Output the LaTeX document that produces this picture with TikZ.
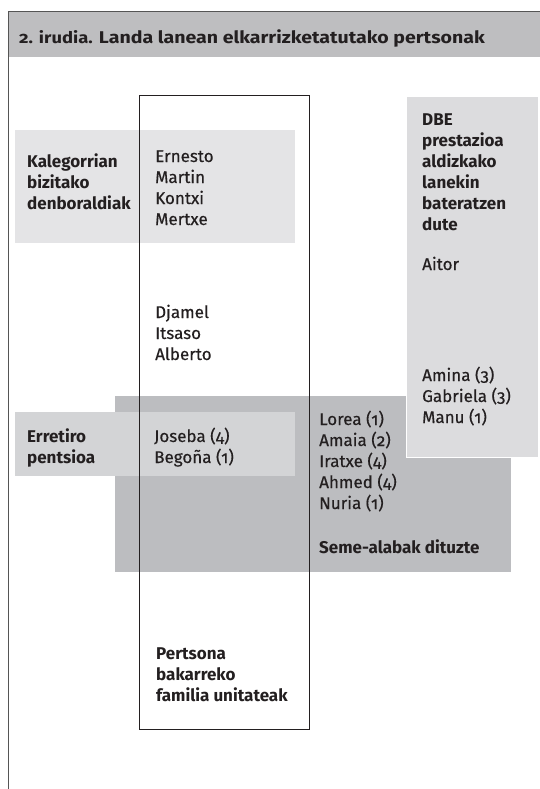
\documentclass[tikz,border=0pt]{standalone}
\usepackage{fontspec}
\setmainfont{Fira Sans}[Numbers=OldStyle, UprightFeatures={FakeBold=0.4}]
\newfontfamily\titlefont{Fira Sans Bold}[Numbers=OldStyle, FakeStretch=1.15]
\definecolor{hdr}{HTML}{BEBEC0}
\definecolor{boxA}{HTML}{E4E4E6}
\definecolor{boxB}{HTML}{D3D4D6}
\definecolor{boxC}{HTML}{BCBDC0}
\definecolor{boxD}{HTML}{DCDCDE}
\definecolor{ink}{HTML}{231F20}
\definecolor{frame}{HTML}{555555}
\newcommand{\mylines}[1]{\begin{tabular}[t]{@{}l@{}}#1\end{tabular}}
\tikzset{
  txt/.style={anchor=base west, inner sep=0pt, text=ink, font=\fontsize{17}{21}\selectfont},
  btxt/.style={txt, font=\fontsize{17}{21}\selectfont\bfseries},
}
\begin{document}
\begin{tikzpicture}[x=1pt,y=-1pt]
\useasboundingbox (0,0) rectangle (540,789);
% header
\fill[hdr] (8,12) rectangle (540,57);
\draw[frame, line width=1pt] (540,12) -- (8,12) -- (8,789);
\node[txt, font=\titlefont\fontsize{17}{20}\selectfont] (title) at (19,44) {{\fontsize{16}{20}\selectfont 2. irudia.} Landa lanean elkarrizketatutako pertsonak};
% boxes
\fill[boxA] (15,130) rectangle (295,243);
\fill[boxC] (115,396) rectangle (511,572);
\fill[boxB] (15,412) rectangle (295,476);
\filldraw[boxD, draw=white, line width=1pt] (406,97) rectangle (538,457);
% tall rectangle
\draw[ink, line width=1pt] (139,96) rectangle (309,729);
% texts
\node[btxt] (kal) at (27,167) {\mylines{Kalegorrian\\bizitako\\denboraldiak}};
\node[txt] (kalnames) at (155,162) {\mylines{Ernesto\\Martin\\Kontxi\\Mertxe}};
\node[txt] (mid) at (155,318) {\mylines{Djamel\\Itsaso\\Alberto}};
\node[btxt] (dbe) at (422,125) {\mylines{DBE\\prestazioa\\aldizkako\\lanekin\\bateratzen\\dute}};
\node[txt] (aitor) at (422,270) {Aitor};
\node[txt] (dbenames) at (422,381) {\mylines{Amina (3)\\Gabriela (3)\\Manu (1)}};
\node[btxt] (err) at (27,442) {\mylines{Erretiro\\pentsioa}};
\node[txt] (errnames) at (154,442) {\mylines{Joseba (4)\\Bego\~na (1)}};
\node[txt] (seme) at (319,425) {\mylines{Lorea (1)\\Amaia (2)\\Iratxe (4)\\Ahmed (4)\\Nuria (1)}};
\node[btxt] (semelbl) at (319,553) {Seme-alabak dituzte};
\node[btxt] (pert) at (156,659) {\mylines{Pertsona\\bakarreko\\familia unitateak}};
\end{tikzpicture}
\end{document}
